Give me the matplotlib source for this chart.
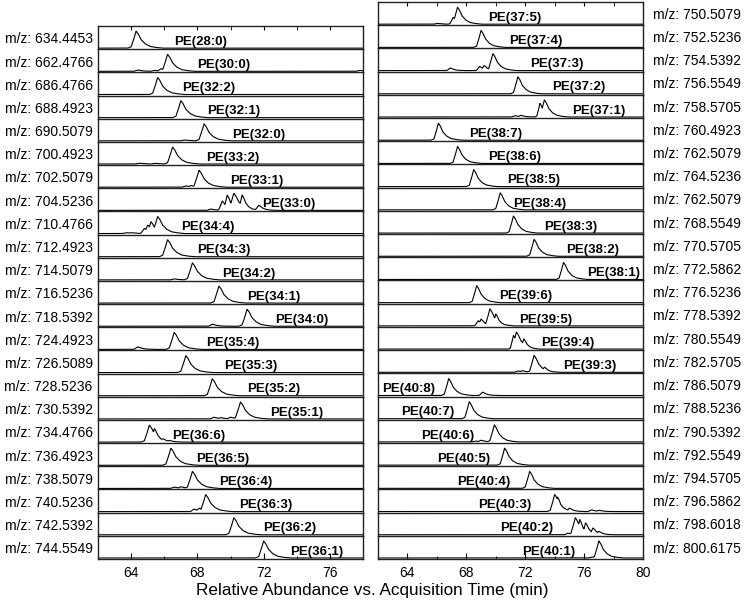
import matplotlib
matplotlib.use("Agg")
import matplotlib.pyplot as plt
import numpy as np

plt.rcParams['font.family'] = ['Liberation Sans', 'DejaVu Sans']

# ---- data ----
left_mz = ["634.4453", "662.4766", "686.4766", "688.4923", "690.5079", "700.4923",
           "702.5079", "704.5236", "710.4766", "712.4923", "714.5079", "716.5236",
           "718.5392", "724.4923", "726.5089", "728.5236", "730.5392", "734.4766",
           "736.4923", "738.5079", "740.5236", "742.5392", "744.5549"]
left_names = ["PE(28:0)", "PE(30:0)", "PE(32:2)", "PE(32:1)", "PE(32:0)", "PE(33:2)",
              "PE(33:1)", "PE(33:0)", "PE(34:4)", "PE(34:3)", "PE(34:2)", "PE(34:1)",
              "PE(34:0)", "PE(35:4)", "PE(35:3)", "PE(35:2)", "PE(35:1)", "PE(36:6)",
              "PE(36:5)", "PE(36:4)", "PE(36:3)", "PE(36:2)", "PE(36:1)"]
left_rt = [64.3, 66.2, 65.6, 67.0, 68.4, 66.5, 68.1, 70.2, 65.6, 66.2, 67.7, 69.3,
           71.0, 66.6, 67.3, 68.9, 70.6, 65.1, 66.4, 67.7, 68.5, 70.2, 72.0]
left_label_rt = [66.6, 68.0, 67.1, 68.6, 70.1, 68.5, 70.0, 71.9, 67.0, 68.0, 69.5, 71.0,
                 72.7, 68.5, 69.6, 71.0, 72.4, 66.5, 67.9, 69.3, 70.5, 72.0, 73.6]
left_extra = {
    1: [(64.4, 0.08), (65.4, 0.06), (65.8, 0.15), (77.8, 0.06)],
    4: [(67.2, 0.05)],
    5: [(64.5, 0.05), (65.4, 0.04)],
    6: [(67.3, 0.08), (67.6, 0.1)],
    7: [(69.5, 0.55), (69.8, 0.9), (70.7, 0.9), (71.7, 0.3), (68.8, 0.08)],
    8: [(65.2, 0.7), (65.0, 0.5), (64.8, 0.3), (64.0, 0.05), (63.7, 0.05)],
    10: [(66.6, 0.06)],
    12: [(68.9, 0.12)],
    13: [(64.4, 0.15)],
    16: [(69.0, 0.1), (69.4, 0.08), (70.0, 0.1), (71.2, 0.12)],
    17: [(65.4, 0.8), (65.9, 0.2), (66.3, 0.1)],
    19: [(67.0, 0.1), (66.6, 0.08)],
    20: [(67.8, 0.15), (68.1, 0.2)],
}

right_mz = ["750.5079", "752.5236", "754.5392", "756.5549", "758.5705", "760.4923",
            "762.5079", "764.5236", "762.5079", "768.5549", "770.5705", "772.5862",
            "776.5236", "778.5392", "780.5549", "782.5705", "786.5079", "788.5236",
            "790.5392", "792.5549", "794.5705", "796.5862", "798.6018", "800.6175"]
right_names = ["PE(37:5)", "PE(37:4)", "PE(37:3)", "PE(37:2)", "PE(37:1)", "PE(38:7)",
               "PE(38:6)", "PE(38:5)", "PE(38:4)", "PE(38:3)", "PE(38:2)", "PE(38:1)",
               "PE(39:6)", "PE(39:5)", "PE(39:4)", "PE(39:3)", "PE(40:8)", "PE(40:7)",
               "PE(40:6)", "PE(40:5)", "PE(40:4)", "PE(40:3)", "PE(40:2)", "PE(40:1)"]
right_rt = [67.4, 69.0, 69.8, 71.5, 73.3, 66.1, 67.4, 68.5, 70.3, 71.2, 72.6, 74.6,
            68.7, 69.6, 71.4, 72.6, 66.8, 68.2, 69.9, 70.6, 72.3, 74.0, 75.4, 77.0]
right_label_rt = [69.5, 70.9, 72.3, 73.8, 75.2, 68.2, 69.5, 70.8, 71.2, 73.3, 74.8, 76.2,
                  70.2, 71.6, 73.1, 74.6, 62.3, 63.6, 64.9, 66.0, 67.4, 68.8, 70.3, 71.8]
right_extra = {
    0: [(67.1, 0.4), (66.0, 0.05)],
    2: [(66.9, 0.15), (68.9, 0.25), (69.2, 0.3)],
    3: [(72.2, 0.1)],
    4: [(71.3, 0.08), (71.7, 0.1), (73.0, 0.8)],
    12: [(69.1, 0.2)],
    13: [(68.8, 0.3), (69.0, 0.4), (70.0, 0.7)],
    14: [(71.2, 0.8), (71.9, 0.6)],
    15: [(71.5, 0.08), (71.8, 0.1), (73.3, 0.3)],
    16: [(69.1, 0.2)],
    18: [(69.0, 0.1), (68.6, 0.05)],
    21: [(74.2, 0.85), (75.0, 0.2), (76.5, 0.1), (77.0, 0.08)],
    22: [(75.7, 0.9), (76.1, 0.7), (76.6, 0.4), (77.0, 0.2), (74.9, 0.1)],
    23: [(76.5, 0.05)],
}

# typical peak profile (offset from apex in min, relative height)
shape_dt = [-0.5, -0.3, -0.15, 0.0, 0.12, 0.3, 0.55, 0.85, 1.2, 1.6]
shape_h = [0.0, 0.08, 0.5, 1.0, 0.85, 0.5, 0.25, 0.1, 0.04, 0.0]


def trace(t, rt, extra):
    y = np.interp(t, np.array(shape_dt) + rt, shape_h, left=0, right=0)
    for r, h in extra:
        y = np.maximum(y, h * np.interp(t, np.array(shape_dt) * 0.7 + r, shape_h, left=0, right=0))
    return y


fig = plt.figure(figsize=(7.47, 6.03), dpi=100)
W, H = 747.0, 603.0


def panel(x0, x1, ytop, ybot, xmax, mz, names, rts, lab_rt, extras, ticks, side):
    n = len(mz)
    h = (ybot - ytop) / n
    t = np.linspace(62, xmax, 1500)
    for i in range(n):
        top = ytop + i * h
        ax = fig.add_axes([x0 / W, 1 - (top + h) / H, (x1 - x0) / W, h / H])
        ax.patch.set_alpha(0)
        ax.plot(t, trace(t, rts[i], extras.get(i, [])), color='black', lw=0.8)
        ax.set_xlim(62, xmax)
        ax.set_ylim(-0.06, 1.3)
        ax.set_yticks([])
        for s in ax.spines.values():
            s.set_linewidth(1.0)
            s.set_color('#222222')
        if i > 0:
            ax.spines['top'].set_visible(False)
        ax.text(lab_rt[i], 0.02, names[i], fontsize=9.5, fontweight='bold', va='bottom', ha='left')
        if side == 'left':
            ax.text(-0.02, 0.42, "m/z: " + mz[i], transform=ax.transAxes, ha='right',
                    va='center', fontsize=10)
        else:
            ax.text(1.037, 0.45, "m/z: " + mz[i], transform=ax.transAxes, ha='left',
                    va='center', fontsize=10)
        ax.set_xticks(ticks)
        ax.set_xticks(np.arange(64, xmax + 0.1, 2), minor=True)
        if i == 0:
            ax.tick_params(axis='x', which='both', direction='in', top=True, bottom=False,
                           labeltop=False, labelbottom=False, length=3)
        elif i == n - 1:
            ax.tick_params(axis='x', which='major', direction='in', top=False, bottom=True,
                           labelsize=10, length=4, pad=5)
            ax.tick_params(axis='x', which='minor', direction='in', top=False, bottom=True,
                           length=2)
        else:
            ax.tick_params(axis='x', which='both', bottom=False, top=False, labelbottom=False)


panel(98, 363, 26, 559, 78, left_mz, left_names, left_rt, left_label_rt, left_extra,
      [64, 68, 72, 76], 'left')
panel(378, 643, 2, 559, 80, right_mz, right_names, right_rt, right_label_rt, right_extra,
      [64, 68, 72, 76, 80], 'right')

fig.text(372 / W, 1 - 590 / H, "Relative Abundance vs. Acquisition Time (min)",
         ha='center', va='center', fontsize=12.3)

fig.savefig("out.png", dpi=100)
